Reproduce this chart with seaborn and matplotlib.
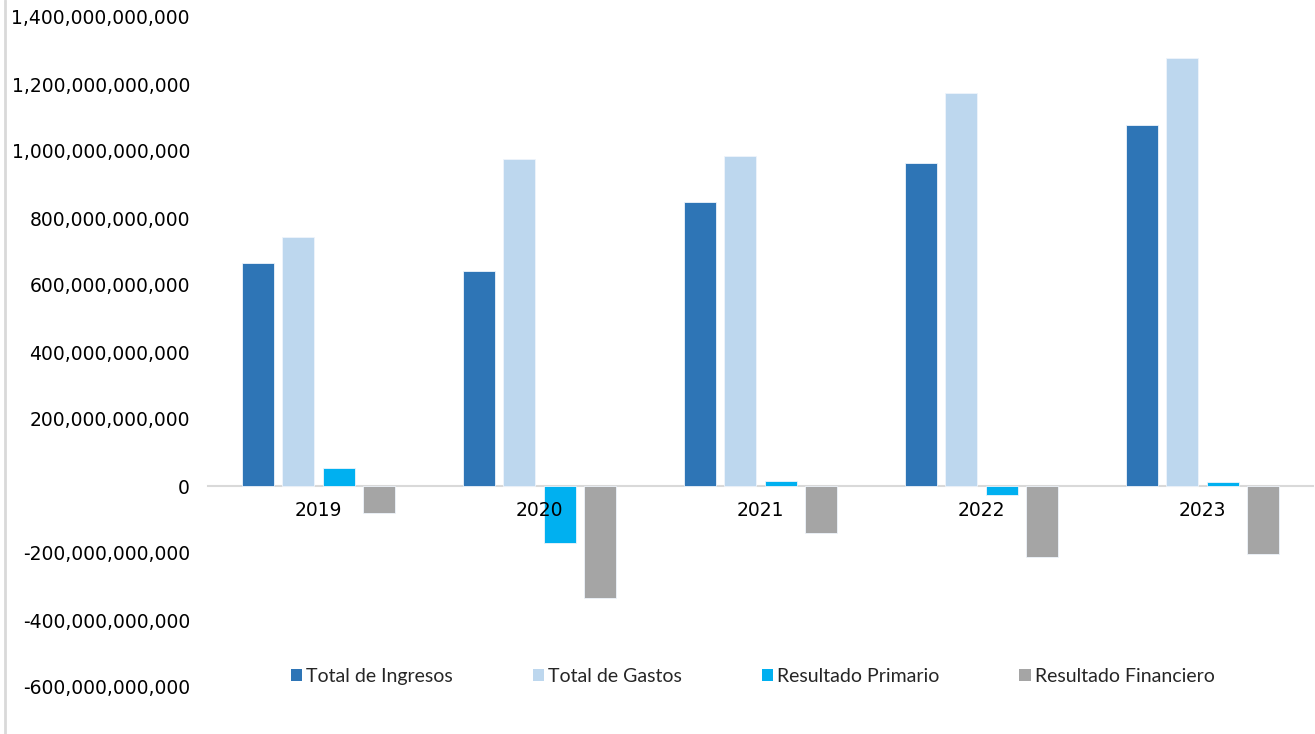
import matplotlib
matplotlib.use("Agg")
import matplotlib.pyplot as plt
from matplotlib.patches import Patch
from matplotlib.lines import Line2D
from matplotlib.ticker import FuncFormatter, MultipleLocator
import seaborn as sns
import pandas as pd

# Annual fiscal results (pesos)
years = ["2019", "2020", "2021", "2022", "2023"]
series = ["Total de Ingresos", "Total de Gastos", "Resultado Primario", "Resultado Financiero"]
ingresos = [665e9, 642e9, 847e9, 963e9, 1078e9]
gastos = [742e9, 975e9, 984e9, 1172e9, 1279e9]
primario = [53e9, -170e9, 16e9, -26e9, 12e9]
financiero = [-81e9, -334e9, -139e9, -211e9, -202e9]
colors = ["#2E75B6", "#BDD7EE", "#00B0F0", "#A5A5A5"]

values = [ingresos, gastos, primario, financiero]
df = pd.DataFrame(
    [(y, s, v) for s, vals in zip(series, values) for y, v in zip(years, vals)],
    columns=["Año", "Serie", "Valor"],
)

sns.set_theme(style="white")
plt.rcParams["font.family"] = ["DejaVu Sans"]

fig = plt.figure(figsize=(13.15, 7.34), dpi=100)
ax = fig.add_axes([208 / 1315, 47 / 734, 1105 / 1315, 670 / 734])

sns.barplot(
    data=df, x="Año", y="Valor", hue="Serie", hue_order=series, order=years,
    palette=colors, saturation=1, width=0.724, gap=0.2,
    edgecolor="#eef4fb", linewidth=0.6, legend=False, ax=ax,
)
for bar in ax.patches:
    bar.set_zorder(1)

ax.set_xlim(-0.5, len(years) - 0.5)
ax.set_ylim(-600e9, 1400e9)
ax.yaxis.set_major_locator(MultipleLocator(200e9))
ax.yaxis.set_major_formatter(FuncFormatter(lambda v, _: f"{v:,.0f}"))
ax.set_xlabel("")
ax.set_ylabel("")

for side in ["top", "right", "left"]:
    ax.spines[side].set_visible(False)
ax.spines["bottom"].set_position(("data", 0))
ax.spines["bottom"].set_color("#d9d9d9")
ax.spines["bottom"].set_linewidth(1.5)
ax.spines["bottom"].set_zorder(0.5)

ax.tick_params(axis="y", length=0, pad=13, labelsize=13.5, labelcolor="#000000")
ax.tick_params(axis="x", length=0, pad=11, labelsize=13.5, labelcolor="#000000")
ax.xaxis.set_zorder(3)
ax.grid(False)

handles = [Patch(facecolor=c, edgecolor="none") for c in colors]
ax.legend(
    handles, series, loc="center", bbox_to_anchor=(0.493, 0.016), ncol=4,
    frameon=False, handlelength=0.6, handleheight=0.6, handletextpad=0.2,
    columnspacing=4.1, prop={"family": ["Lato", "DejaVu Sans"], "size": 14},
)

# chart border on the left
fig.add_artist(Line2D([5 / 1315, 5 / 1315], [0, 1], transform=fig.transFigure,
                      color="#d9d9d9", linewidth=2))

fig.savefig("out.png", dpi=100)
